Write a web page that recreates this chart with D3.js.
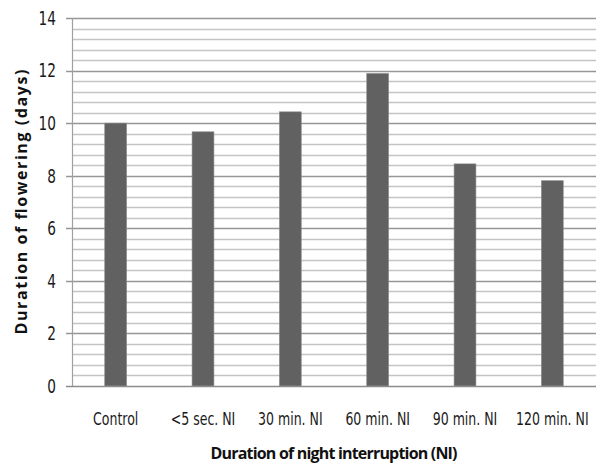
<!DOCTYPE html>
<html>
<head>
<meta charset="utf-8">
<script src="https://cdn.jsdelivr.net/npm/d3@7"></script>
<style>
  body { margin: 0; background: #fff; }
  .tick-label { font-family: 'Liberation Sans Narrow', 'DejaVu Sans Condensed', 'Open Sans', sans-serif; font-stretch: condensed; fill: #1a1a1a; }
  .title { font-family: 'Open Sans', 'Liberation Sans', sans-serif; font-weight: bold; fill: #111; }
</style>
</head>
<body>
<div id="chart"></div>
<script>
const categories = ['Control', '<5 sec. NI', '30 min. NI', '60 min. NI', '90 min. NI', '120 min. NI'];
const durations = [10.0, 9.67, 10.43, 11.89, 8.45, 7.81];
const yTicks = [0, 2, 4, 6, 8, 10, 12, 14];

const margin = {
  top: 18, right: 6, bottom: 80, left: 72,
};
const width = 602 - margin.left - margin.right;
const height = 466 - margin.top - margin.bottom;

const svg = d3.select('#chart').append('svg')
  .attr('width', 602)
  .attr('height', 466)
  .append('g')
  .attr('transform', `translate(${margin.left},${margin.top})`);

const xScale = d3.scaleBand()
  .domain(categories)
  .range([0, width])
  .paddingInner(0.75)
  .paddingOuter(0.375);

const yScale = d3.scaleLinear()
  .domain([0, 14])
  .range([height, 0]);

// minor gridlines every 0.4, major every 2
const minor = d3.range(0, 14.01, 0.4).filter(v => Math.abs(v / 2 - Math.round(v / 2)) > 0.01);
svg.append('g')
  .selectAll('line')
  .data(minor)
  .enter().append('line')
  .attr('x1', 0)
  .attr('x2', width)
  .attr('y1', d => Math.round(yScale(d)) + 0.5)
  .attr('y2', d => Math.round(yScale(d)) + 0.5)
  .style('stroke', '#c4c4c4')
  .style('stroke-width', 1.3);

svg.append('g')
  .selectAll('line')
  .data(yTicks.filter(d => d > 0))
  .enter().append('line')
  .attr('x1', -6)
  .attr('x2', width)
  .attr('y1', d => Math.round(yScale(d)) + 0.5)
  .attr('y2', d => Math.round(yScale(d)) + 0.5)
  .style('stroke', '#969696')
  .style('stroke-width', 1.3);

// bars
svg.append('g')
  .selectAll('rect')
  .data(durations)
  .enter().append('rect')
  .attr('x', (d, i) => xScale(categories[i]))
  .attr('y', d => yScale(d))
  .attr('width', xScale.bandwidth())
  .attr('height', d => height - yScale(d))
  .style('fill', '#616161')
  .style('stroke', '#8a8a8a')
  .style('stroke-width', 0.6);

// axes lines
svg.append('line')
  .attr('x1', 0.5).attr('x2', 0.5)
  .attr('y1', 0).attr('y2', height)
  .style('stroke', '#a0a0a0')
  .style('stroke-width', 1.2);

svg.append('line')
  .attr('x1', -6).attr('x2', width)
  .attr('y1', height + 0.5).attr('y2', height + 0.5)
  .style('stroke', '#8c8c8c')
  .style('stroke-width', 1.3);

// y tick labels (squeezed sideways for a Calibri-like look)
svg.append('g')
  .selectAll('text')
  .data(yTicks)
  .enter().append('text')
  .attr('class', 'tick-label')
  .attr('transform', d => `translate(-16,${yScale(d)}) scale(0.8,1)`)
  .attr('dy', '0.36em')
  .style('text-anchor', 'end')
  .style('font-size', '19px')
  .text(d => d);

// x tick labels
svg.append('g')
  .selectAll('text')
  .data(categories)
  .enter().append('text')
  .attr('class', 'tick-label')
  .attr('transform', d => `translate(${xScale(d) + xScale.bandwidth() / 2},${height + 39}) scale(0.82,1)`)
  .style('text-anchor', 'middle')
  .style('font-size', '17px')
  .text(d => d);

// axis titles
svg.append('text')
  .attr('class', 'title')
  .attr('x', width / 2)
  .attr('y', height + 73)
  .style('text-anchor', 'middle')
  .style('font-size', '16px')
  .attr('textLength', 247)
  .text('Duration of night interruption (NI)');

svg.append('text')
  .attr('class', 'title')
  .attr('transform', `translate(${-45},${height / 2}) rotate(-90)`)
  .style('text-anchor', 'middle')
  .style('font-size', '16px')
  .attr('textLength', 265)
  .text('Duration of flowering (days)');
</script>
</body>
</html>
